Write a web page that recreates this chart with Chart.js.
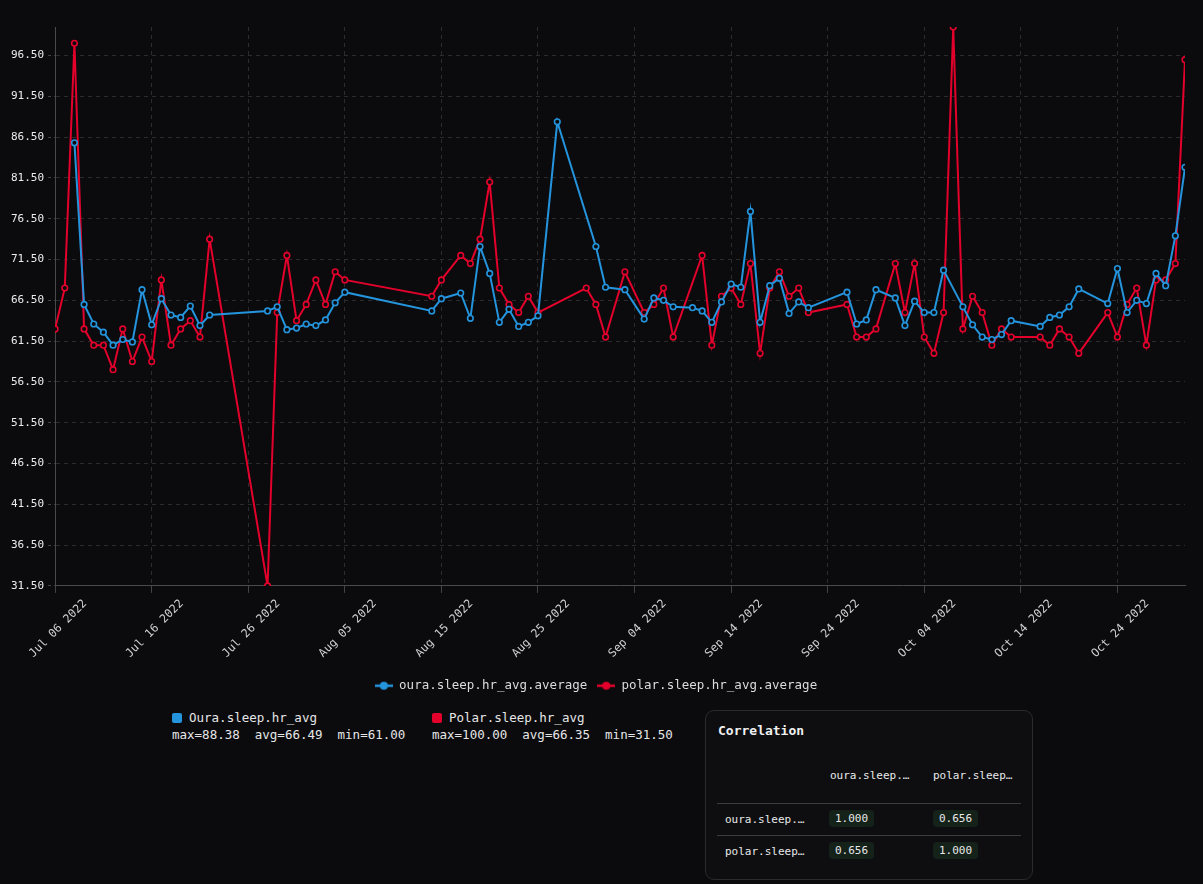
<!DOCTYPE html>
<html>
<head>
<meta charset="utf-8">
<script src="https://cdn.jsdelivr.net/npm/chart.js@4.4.1/dist/chart.umd.min.js"></script>
<style>
  html, body { margin: 0; padding: 0; background: #0b0b0e; }
  body { width: 1203px; height: 884px; position: relative; overflow: hidden;
         font-family: "DejaVu Sans Mono", monospace; color: #e6e6e6; }
  #chartBox { position: absolute; left: 0; top: 0; width: 1203px; height: 702px; }
  .stat { position: absolute; top: 709px; font-size: 12.5px; line-height: 17px; white-space: pre; }
  .stat .sw { display: inline-block; width: 10px; height: 10px; border-radius: 2px; margin-right: 7px; vertical-align: -1px; }
  #corr { position: absolute; left: 705px; top: 710px; width: 326px; height: 168px;
          border: 1px solid #2a2a2f; border-radius: 9px; background: #0e0e11; }
  #corr .ttl { position: absolute; left: 12px; top: 12px; font-size: 13px; font-weight: bold; color: #f0f0f0; }
  #corr .c { position: absolute; font-size: 11px; color: #e8e8e8; }
  #corr .hr { position: absolute; left: 11px; width: 304px; height: 1px; background: #3a3a40; }
  #corr .b { position: absolute; font-size: 11px; color: #e8e8e8; background: #15221a; border-radius: 4px;
             padding: 2px 6px; }
</style>
</head>
<body>
<div id="chartBox"><canvas id="lineChart"></canvas></div>

<div class="stat" style="left:172px"><span class="sw" style="background:#2494dd"></span>Oura.sleep.hr_avg
max=88.38  avg=66.49  min=61.00</div>
<div class="stat" style="left:432px"><span class="sw" style="background:#e3002b"></span>Polar.sleep.hr_avg
max=100.00  avg=66.35  min=31.50</div>

<div id="corr">
  <div class="ttl">Correlation</div>
  <div class="c" style="left:124px;top:58px">oura.sleep.…</div>
  <div class="c" style="left:227px;top:58px">polar.sleep…</div>
  <div class="hr" style="top:92px"></div>
  <div class="c" style="left:19px;top:102px">oura.sleep.…</div>
  <div class="b" style="left:123px;top:99px">1.000</div>
  <div class="b" style="left:227px;top:99px">0.656</div>
  <div class="hr" style="top:124px"></div>
  <div class="c" style="left:19px;top:134px">polar.sleep…</div>
  <div class="b" style="left:123px;top:131px">0.656</div>
  <div class="b" style="left:227px;top:131px">1.000</div>
</div>

<script>
var ouraDates = [
    "07-08", "07-09", "07-10", "07-11", "07-12", "07-13", "07-14", "07-15", "07-16", "07-17", "07-18", "07-19", "07-20", "07-21", "07-22",
    "07-28", "07-29", "07-30", "07-31", "08-01", "08-02", "08-03", "08-04", "08-05",
    "08-14", "08-15", "08-17", "08-18", "08-19", "08-20", "08-21", "08-22", "08-23", "08-24", "08-25",
    "08-27",
    "08-31", "09-01", "09-03", "09-05", "09-06", "09-07", "09-08", "09-10",
    "09-11", "09-12", "09-13", "09-14", "09-15", "09-16", "09-17", "09-18", "09-19", "09-20", "09-21", "09-22",
    "09-26", "09-27", "09-28", "09-29",
    "10-01", "10-02", "10-03", "10-04", "10-05", "10-06", "10-08", "10-09", "10-10", "10-11", "10-12", "10-13",
    "10-16", "10-17", "10-18", "10-19", "10-20",
    "10-23", "10-24", "10-25", "10-26", "10-27", "10-28", "10-29", "10-30", "10-31"
];
var ouraValues = [
    85.8, 66.0, 63.6, 62.6, 61.0, 61.7, 61.4, 67.8, 63.5, 66.7, 64.7, 64.4, 65.8, 63.4, 64.7,
    65.2, 65.7, 62.9, 63.1, 63.6, 63.4, 64.1, 66.2, 67.5,
    65.2, 66.7, 67.4, 64.3, 73.1, 69.8, 63.8, 65.4, 63.3, 63.8, 64.6,
    88.38,
    73.1, 68.1, 67.8, 64.2, 66.8, 66.5, 65.7, 65.6,
    65.2, 63.8, 66.3, 68.5, 68.1, 77.4, 63.8, 68.3, 69.2, 64.9, 66.3, 65.6,
    67.5, 63.6, 64.1, 67.8,
    66.8, 63.4, 66.4, 65.0, 65.0, 70.2, 65.7, 63.5, 62.0, 61.7, 62.3, 64.0,
    63.3, 64.4, 64.7, 65.7, 67.9,
    66.1, 70.4, 65.0, 66.5, 66.1, 69.8, 68.3, 74.4, 82.8
];

var polarDates = [
    "07-06", "07-07", "07-08", "07-09", "07-10", "07-11", "07-12", "07-13", "07-14", "07-15", "07-16", "07-17", "07-18", "07-19", "07-20", "07-21", "07-22",
    "07-28", "07-29", "07-30", "07-31", "08-01", "08-02", "08-03", "08-04", "08-05",
    "08-14", "08-15", "08-17", "08-18", "08-19", "08-20", "08-21", "08-22", "08-23", "08-24", "08-25",
    "08-30", "08-31", "09-01", "09-03", "09-05", "09-06", "09-07", "09-08",
    "09-11", "09-12", "09-13", "09-14", "09-15", "09-16", "09-17", "09-18", "09-19", "09-20", "09-21", "09-22",
    "09-26", "09-27", "09-28", "09-29",
    "10-01", "10-02", "10-03", "10-04", "10-05", "10-06", "10-07", "10-08", "10-09", "10-10", "10-11", "10-12", "10-13",
    "10-16", "10-17", "10-18", "10-19", "10-20",
    "10-23", "10-24", "10-25", "10-26", "10-27", "10-28", "10-29", "10-30", "10-31"
];
var polarValues = [
    63, 68, 98, 63, 61, 61, 58, 63, 59, 62, 59, 69, 61, 63, 64, 62, 74,
    31.5, 65, 72, 64, 66, 69, 66, 70, 69,
    67, 69, 72, 71, 74, 81, 68, 66, 65, 67, 65,
    68, 66, 62, 70, 65, 66, 68, 62,
    72, 61, 67, 68, 66, 71, 60, 68, 70, 67, 68, 65,
    66, 62, 62, 63,
    71, 65, 71, 62, 60, 65, 100, 63, 67, 65, 61, 63, 62,
    62, 61, 63, 62, 60,
    65, 62, 66, 68, 61, 69, 69, 71, 96
];

var yTicks = [31.5, 36.5, 41.5, 46.5, 51.5, 56.5, 61.5, 66.5, 71.5, 76.5, 81.5, 86.5, 91.5, 96.5];
var monthNames = ["Jan", "Feb", "Mar", "Apr", "May", "Jun", "Jul", "Aug", "Sep", "Oct", "Nov", "Dec"];

var year = 2022;
var firstDay = Date.UTC(year, 6, 6);
var lastDay = Date.UTC(year, 9, 31);

function dayIndex(md) {
    var p = md.split("-");
    return Math.round((Date.UTC(year, +p[0] - 1, +p[1]) - firstDay) / 864e5);
}
function toPoints(dates, values) {
    return dates.map(function (d, i) { return { x: dayIndex(d), y: values[i] }; });
}
function dayLabel(n) {
    var d = new Date(firstDay + n * 864e5);
    var dd = d.getUTCDate();
    return monthNames[d.getUTCMonth()] + " " + (dd < 10 ? "0" + dd : dd) + " " + d.getUTCFullYear();
}
function legendMark(color) {
    var c = document.createElement("canvas");
    c.width = 18; c.height = 10;
    var g = c.getContext("2d");
    g.strokeStyle = color; g.lineWidth = 2.5;
    g.beginPath(); g.moveTo(0, 5); g.lineTo(18, 5); g.stroke();
    g.fillStyle = color;
    g.beginPath(); g.arc(9, 5, 4, 0, Math.PI * 2); g.fill();
    return c;
}

var blue = "#2494dd";
var red = "#e3002b";
var bg = "#0b0b0e";

Chart.defaults.font.family = "'DejaVu Sans Mono', monospace";
Chart.defaults.color = "#d8d8d8";

var lineData = {
    datasets: [{
        label: "oura.sleep.hr_avg.average",
        data: toPoints(ouraDates, ouraValues),
        borderColor: blue,
        backgroundColor: blue,
        pointBackgroundColor: bg,
        pointBorderColor: blue,
        marker: legendMark(blue)
    }, {
        label: "polar.sleep.hr_avg.average",
        data: toPoints(polarDates, polarValues),
        borderColor: red,
        backgroundColor: red,
        pointBackgroundColor: bg,
        pointBorderColor: red,
        marker: legendMark(red)
    }]
};

var lineOptions = {
    responsive: true,
    maintainAspectRatio: false,
    animation: false,
    layout: { padding: { top: 27, right: 18, left: 7 } },
    elements: {
        line: { borderWidth: 2, tension: 0 },
        point: { radius: 2.8, borderWidth: 1.6, hoverRadius: 4 }
    },
    scales: {
        x: {
            type: "linear",
            min: 0,
            max: Math.round((lastDay - firstDay) / 864e5),
            afterBuildTicks: function (scale) {
                scale.ticks = scale.ticks.filter(function (t) { return t.value % 10 === 0; });
            },
            afterFit: function (scale) {
                // labels are shifted right, so no extra side room is needed
                scale.paddingLeft = 0;
                scale.paddingRight = 0;
                scale.height += 5;
            },
            ticks: {
                stepSize: 10,
                autoSkip: false,
                maxRotation: 45,
                minRotation: 45,
                padding: 4,
                labelOffset: 30,
                color: "#d0d0d0",
                font: { size: 11.5 },
                callback: function (v) { return dayLabel(v); }
            },
            grid: { color: "#2b2b2e", tickBorderDash: [], tickColor: "#444", tickLength: 7 },
            border: { color: "#4a4a4e", dash: [4, 4] }
        },
        y: {
            min: 31.5,
            max: 100,
            afterBuildTicks: function (scale) {
                scale.ticks = yTicks.map(function (v) { return { value: v }; });
            },
            ticks: {
                color: "#ececec",
                font: { size: 11 },
                padding: 4,
                callback: function (v) { return v.toFixed(2); }
            },
            grid: { color: "#2b2b2e", tickBorderDash: [3, 3], tickColor: "#444", tickLength: 7 },
            border: { color: "#4a4a4e", dash: [4, 4] }
        }
    },
    plugins: {
        legend: {
            position: "bottom",
            labels: {
                color: "#dcdcdc",
                font: { size: 12.5 },
                usePointStyle: true,
                pointStyleWidth: 18,
                padding: 10,
                generateLabels: function (chart) {
                    var items = Chart.defaults.plugins.legend.labels.generateLabels(chart);
                    items.forEach(function (it) { it.pointStyle = chart.data.datasets[it.datasetIndex].marker; });
                    return items;
                }
            }
        },
        tooltip: { enabled: false }
    }
};

var ctx = document.getElementById("lineChart").getContext("2d");
new Chart(ctx, { type: "line", data: lineData, options: lineOptions });
</script>
</body>
</html>
